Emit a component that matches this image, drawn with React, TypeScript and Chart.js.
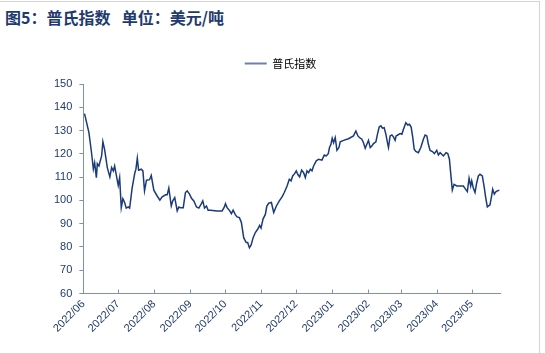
import { useEffect, useRef } from 'react';
import { Chart, registerables } from 'chart.js';

Chart.register(...registerables);

// x axis: days since 2022-06-01
const monthTickDays = [0, 30, 61, 92, 122, 153, 183, 214, 245, 273, 304, 334];
const monthTickLabels = [
  '2022/06', '2022/07', '2022/08', '2022/09', '2022/10', '2022/11',
  '2022/12', '2023/01', '2023/02', '2023/03', '2023/04', '2023/05',
];
const xMaxDay = 358.3;

const seriesLabel = '普氏指数';

const dayOffsets = [
  1, 4.8, 6.9, 8.6, 9.7, 11.2, 12, 13.4, 15.7, 16.8, 18.3, 20.6, 22.8, 24.3, 25.8, 26.9, 28.3,
  30, 31.2, 32.6, 34, 35.5, 36.9, 38.6, 39.8, 42, 44.3, 45.2, 46.4, 47.5, 49.8, 51.2, 52.6,
  54.3, 56.9, 58.4, 60.6, 63.5, 65.8, 67.8, 70.7, 72.1, 73.5, 75.6, 76.9, 78.6, 80.7, 82.1,
  83.5, 85.9, 87.8, 89.3, 91.3, 93, 95, 97.3, 99.3, 101.3, 102.7, 104.2, 105.9, 107.3, 109.3,
  115, 119.3, 121.3, 122.2, 123.6, 125.9, 127.3, 128.8, 130.8, 132.2, 134.2, 135.9, 137.9,
  140, 141.3, 142.8, 144.3, 146, 147.9, 149.9, 151.6, 152.8, 154.5, 156.5, 157.8, 159.4,
  161.7, 163.7, 166, 168.5, 170.9, 172.8, 175.2, 177.1, 178.6, 180, 181.7, 183.1, 184.6,
  186, 187.7, 189.4, 190.9, 192.3, 193.7, 195.2, 196.6, 198, 200.3, 202.3, 205.2, 207.2,
  208.9, 210.6, 211.7, 212.9, 214, 215.2, 216.6, 218.1, 219.8, 220.9, 223.8, 228, 232.3,
  234.4, 236.1, 238.1, 239.5, 240.9, 242.4, 243.8, 245.2, 246.7, 248.1, 249.5, 251.6, 252.9,
  254.4, 255.9, 257.2, 258.7, 260.2, 261.5, 262.4, 263.8, 265.3, 266.7, 268.1, 269, 270.4,
  272.4, 273.9, 275.3, 277.3, 279, 280.4, 281.9, 283.3, 284.5, 285.9, 288.1, 290.2, 292.4,
  293.9, 295.4, 296.7, 298.2, 300.2, 301.9, 303.9, 305.3, 306.8, 308.2, 309.6, 311.9, 313.4,
  314.8, 316, 317.3, 318.8, 321.1, 324, 326.8, 328.2, 330.2, 331.7, 333.1, 334, 335.4, 336.8,
  338.3, 339.7, 341.1, 343.1, 344.8, 346, 347.4, 349.7, 351.1, 352, 353.4, 354.9, 357.7,
];

const prices = [
  137.3, 129.1, 121, 113.5, 116.2, 109.8, 115.8, 114.8, 119.1, 125.2, 121.8, 114.1, 110.1, 114.1, 112.7, 114.8, 111,
  106.5, 109.8, 96.9, 100.7, 99.1, 96.7, 97.2, 96.7, 105.5, 111.9, 113.4, 118.1, 113, 113.4, 112.7, 104.1,
  108.7, 108.9, 110.7, 104.4, 101.9, 100.1, 101.5, 102.4, 102.4, 105.3, 97.6, 99.8, 101.2, 95.5, 97.2,
  96.9, 96.9, 103.4, 104.1, 102.7, 100.9, 99.8, 97.2, 96.7, 98.4, 99.8, 96.7, 97.6, 95.8, 95.8,
  95.5, 95.5, 97.2, 98.6, 96.9, 95.5, 94.3, 95.8, 93.8, 92.9, 92.6, 90.5, 84,
  81.9, 81.9, 79.7, 80.9, 84, 86.2, 87.6, 89.3, 88.1, 92, 94, 97.6, 98.8,
  99.1, 94.8, 97.6, 99.8, 101.5, 103.4, 106.2, 109.1, 108.4, 110.5, 111.5, 112.7, 111,
  110.1, 113, 111.9, 109.8, 112.7, 111.9, 113.4, 112.7, 114.8, 117, 117.7, 117.3, 119.5,
  119.1, 120.1, 122.7, 124.1, 126.7, 124.8, 127, 121.5, 122.7, 125.2, 125.8, 126.5, 127.7,
  129.8, 127.7, 126.7, 126.3, 124.8, 122.4, 124.1, 125.8, 122.7, 123.4, 124.4, 125.2, 128.4,
  131.5, 132, 131, 131.2, 128.4, 124.8, 122.7, 127.7, 128.1, 127.3, 125.8, 127.7, 128.1,
  128.7, 128.4, 130.6, 133.4, 132.4, 132.7, 131.5, 127, 122, 121, 120.5, 122.7, 126.3,
  128.1, 127.7, 124.1, 121.5, 121, 120.1, 121.5, 119.5, 120.5, 119.8, 119.1, 120.5, 120.1,
  117.7, 111.2, 104.4, 106.9, 106.2, 106.2, 106.2, 105.2, 103.8, 109.5, 106.2, 108.4, 105.2, 103.4,
  107.6, 110.5, 111.2, 110.5, 105.5, 101.2, 97.2, 98.1, 101.9, 104.8, 102.7, 103.8, 104.4,
];

const yMin = 60;
const yMax = 150;
const yStep = 10;

const titleText = '图5：普氏指数  单位：美元/吨';

const LINE_COLOR = '#1b3a7a';
const AXIS_COLOR = '#7f91b2';
const LABEL_COLOR = '#213a6b';

const inwardXTicks = {
  id: 'inwardXTicks',
  afterDraw(chart: any) {
    const xs = chart.scales.x;
    const ctx = chart.ctx;
    const yBase = chart.chartArea.bottom;
    ctx.save();
    ctx.strokeStyle = AXIS_COLOR;
    ctx.lineWidth = 1;
    monthTickDays.forEach((d) => {
      const px = Math.round(xs.getPixelForValue(d)) + 0.5;
      ctx.beginPath();
      ctx.moveTo(px, yBase);
      ctx.lineTo(px, yBase - 4);
      ctx.stroke();
    });
    ctx.restore();
  },
};

const legendMargin = {
  id: 'legendMargin',
  beforeInit(chart: any) {
    const lg = chart.legend;
    if (!lg) return;
    const fit = lg.fit;
    lg.fit = function () {
      fit.call(lg);
      lg.height += 5;
    };
  },
  afterLayout(chart: any) {
    const lg = chart.legend;
    if (!lg) return;
    lg.left += 7;
    lg.right += 7;
  },
};

export default function App() {
  const ref = useRef<HTMLCanvasElement>(null);

  useEffect(() => {
    document.body.style.margin = '0';
    const canvas = ref.current;
    if (!canvas) return;
    const chart = new Chart(canvas, {
      type: 'line',
      data: {
        datasets: [
          {
            label: seriesLabel,
            data: dayOffsets.map((d, i) => ({ x: d, y: prices[i] })),
            borderColor: LINE_COLOR,
            backgroundColor: LINE_COLOR,
            borderWidth: 1.5,
            pointRadius: 0,
            tension: 0,
          },
        ],
      },
      options: {
        animation: false,
        responsive: false,
        maintainAspectRatio: false,
        layout: { padding: { left: 47, right: 45, top: 48, bottom: 14 } },
        plugins: {
          tooltip: { enabled: false },
          legend: {
            display: true,
            position: 'top',
            labels: {
              boxWidth: 22,
              boxHeight: 2,
              padding: 10,
              color: '#7f7f7f',
              font: { size: 11, family: '"Noto Sans CJK SC", sans-serif' },
              generateLabels: () => [
                {
                  text: seriesLabel,
                  fillStyle: '#6e80a8',
                  strokeStyle: '#6e80a8',
                  lineWidth: 0,
                  hidden: false,
                  datasetIndex: 0,
                },
              ],
            },
          },
        },
        scales: {
          x: {
            type: 'linear',
            min: 0,
            max: xMaxDay,
            afterBuildTicks: (scale: any) => {
              scale.ticks = monthTickDays.map((v) => ({ value: v }));
            },
            ticks: {
              autoSkip: false,
              minRotation: 45,
              maxRotation: 45,
              padding: 4,
              color: LABEL_COLOR,
              font: { size: 11, family: '"Liberation Sans", Arial, sans-serif' },
              callback: (v: any) => {
                const i = monthTickDays.indexOf(Number(v));
                return i >= 0 ? monthTickLabels[i] : '';
              },
            },
            grid: { drawOnChartArea: false, drawTicks: false, color: AXIS_COLOR },
            border: { color: AXIS_COLOR, width: 1 },
          },
          y: {
            min: yMin,
            max: yMax,
            ticks: {
              stepSize: yStep,
              padding: 7,
              color: LABEL_COLOR,
              font: { size: 11, family: '"Liberation Sans", Arial, sans-serif' },
            },
            grid: { drawOnChartArea: false, drawTicks: true, tickLength: 4, color: AXIS_COLOR },
            border: { color: AXIS_COLOR, width: 1 },
          },
        },
      },
      plugins: [legendMargin, inwardXTicks],
    });
    return () => chart.destroy();
  }, []);

  return (
    <div style={{ position: 'relative', width: 545, height: 353, background: '#fff' }}>
      <div
        style={{
          position: 'absolute',
          left: 5,
          top: 7,
          fontFamily: '"Noto Sans CJK SC", sans-serif',
          fontWeight: 700,
          fontSize: 16,
          lineHeight: '20px',
          wordSpacing: 2,
          color: '#1f3a6e',
          whiteSpace: 'pre',
        }}
      >
        {titleText}
      </div>
      <div style={{ position: 'absolute', left: 0, top: 1, width: 540, height: 1, background: '#d4d4d4' }} />
      <div style={{ position: 'absolute', left: 539, top: 1, width: 1, height: 352, background: '#d4d4d4' }} />
      <canvas ref={ref} width={545} height={353} style={{ position: 'absolute', left: 0, top: 0 }} />
    </div>
  );
}
